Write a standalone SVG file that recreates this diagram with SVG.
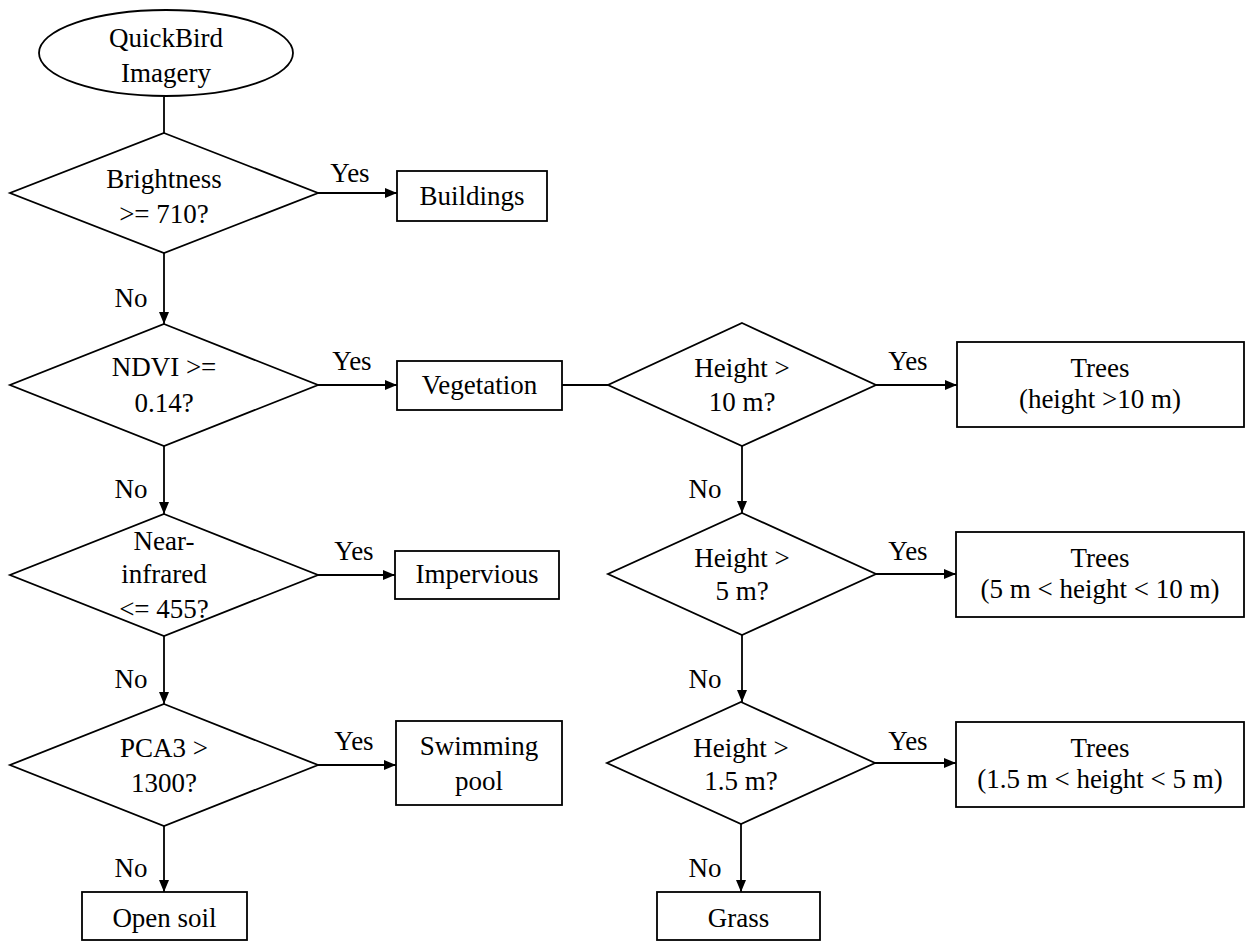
<svg xmlns="http://www.w3.org/2000/svg" width="1247" height="941" viewBox="0 0 1247 941" font-family="'Liberation Serif', 'Times New Roman', 'DejaVu Serif', serif" font-size="27">
<defs>
<marker id="ah" markerUnits="userSpaceOnUse" markerWidth="13" markerHeight="11" refX="12" refY="5" orient="auto">
<path d="M0,0 L12,5 L0,10 z" fill="#000"/>
</marker>
<style>
.s{fill:#fff;stroke:#000;stroke-width:1.8}
.c{fill:none;stroke:#000;stroke-width:1.8}
.a{marker-end:url(#ah)}
text{font-family:'Liberation Serif','Times New Roman','DejaVu Serif',serif;font-size:27px;fill:#000;text-anchor:middle}
</style>
</defs>
<rect width="1247" height="941" fill="#fff"/>
<g id="connectors">
<path class="c" d="M164,97 V133"/>
<path class="c a" d="M164,253 V324"/>
<path class="c a" d="M318,193 H397"/>
<path class="c a" d="M318,385 H397"/>
<path class="c" d="M562,385 H608"/>
<path class="c a" d="M164,446 V514"/>
<path class="c a" d="M318,575 H395"/>
<path class="c a" d="M164,636 V704"/>
<path class="c a" d="M318,765 H396"/>
<path class="c a" d="M164,826 V892"/>
<path class="c a" d="M876,385 H957"/>
<path class="c a" d="M742,446 V513"/>
<path class="c a" d="M876,574 H956"/>
<path class="c a" d="M742,635 V702"/>
<path class="c a" d="M875,763 H956"/>
<path class="c a" d="M741,824 V892"/>
<text x="350" y="182">Yes</text>
<text x="131" y="307">No</text>
<text x="352" y="370">Yes</text>
<text x="131" y="498">No</text>
<text x="354" y="560">Yes</text>
<text x="131" y="688">No</text>
<text x="354" y="750">Yes</text>
<text x="131" y="877">No</text>
<text x="908" y="370">Yes</text>
<text x="705" y="498">No</text>
<text x="908" y="560">Yes</text>
<text x="705" y="688">No</text>
<text x="908" y="750">Yes</text>
<text x="705" y="877">No</text>
</g>
<g id="start">
<ellipse class="s" cx="166" cy="53" rx="127" ry="43"/>
<text x="166" y="47">QuickBird</text>
<text x="166" y="82">Imagery</text>
</g>
<g id="d-brightness">
<polygon class="s" points="164,133 318,193 164,253 10,193"/>
<text x="164" y="188">Brightness</text>
<text x="164" y="223">&gt;= 710?</text>
</g>
<g id="buildings">
<rect class="s" x="397" y="171" width="150" height="50"/>
<text x="472" y="205">Buildings</text>
</g>
<g id="d-ndvi">
<polygon class="s" points="164,324 318,385 164,446 10,385"/>
<text x="164" y="376">NDVI &gt;=</text>
<text x="164" y="412">0.14?</text>
</g>
<g id="vegetation">
<rect class="s" x="397" y="361" width="165" height="49"/>
<text x="479.5" y="394">Vegetation</text>
</g>
<g id="d-nir">
<polygon class="s" points="164,514 318,575 164,636 10,575"/>
<text x="164" y="550">Near-</text>
<text x="164" y="583">infrared</text>
<text x="164" y="618">&lt;= 455?</text>
</g>
<g id="impervious">
<rect class="s" x="395" y="551" width="164" height="48"/>
<text x="477" y="583">Impervious</text>
</g>
<g id="d-pca3">
<polygon class="s" points="164,704 318,765 164,826 10,765"/>
<text x="164" y="757">PCA3 &gt;</text>
<text x="164" y="792">1300?</text>
</g>
<g id="swimming-pool">
<rect class="s" x="396" y="721" width="166" height="84"/>
<text x="479" y="755">Swimming</text>
<text x="479" y="790">pool</text>
</g>
<g id="open-soil">
<rect class="s" x="82" y="892" width="165" height="48"/>
<text x="164.5" y="927">Open soil</text>
</g>
<g id="d-h10">
<polygon class="s" points="742,323 876,385 742,446 608,385"/>
<text x="742" y="377">Height &gt;</text>
<text x="742" y="411">10 m?</text>
</g>
<g id="trees-10">
<rect class="s" x="957" y="342" width="287" height="85"/>
<text x="1100" y="377">Trees</text>
<text x="1100" y="408">(height &gt;10 m)</text>
</g>
<g id="d-h5">
<polygon class="s" points="742,513 876,574 742,635 608,574"/>
<text x="742" y="567">Height &gt;</text>
<text x="742" y="600">5 m?</text>
</g>
<g id="trees-5-10">
<rect class="s" x="956" y="532" width="288" height="85"/>
<text x="1100" y="567">Trees</text>
<text x="1100" y="598">(5 m &lt; height &lt; 10 m)</text>
</g>
<g id="d-h15">
<polygon class="s" points="741,702 875,763 741,824 607,763"/>
<text x="741" y="757">Height &gt;</text>
<text x="741" y="790">1.5 m?</text>
</g>
<g id="trees-15-5">
<rect class="s" x="956" y="722" width="288" height="85"/>
<text x="1100" y="757">Trees</text>
<text x="1100" y="788">(1.5 m &lt; height &lt; 5 m)</text>
</g>
<g id="grass">
<rect class="s" x="657" y="892" width="163" height="48"/>
<text x="738.5" y="927">Grass</text>
</g>
</svg>
